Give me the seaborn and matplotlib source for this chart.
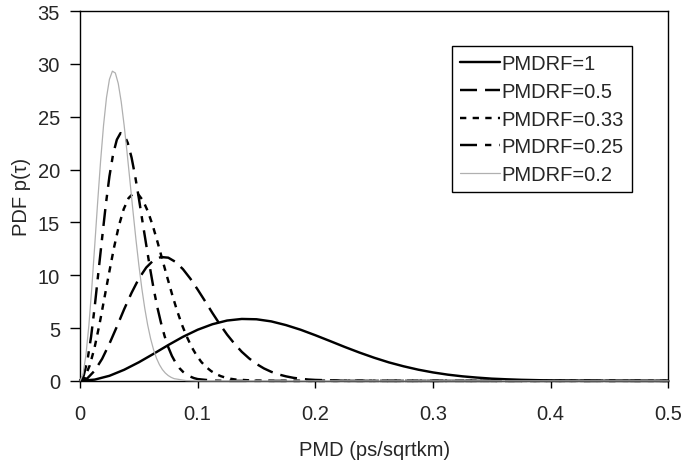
import pandas as pd
import numpy as np
import seaborn as sns
import matplotlib.pyplot as plt
from matplotlib.ticker import FuncFormatter

# values (PMD in ps/sqrtkm, PDF)
x_rf1 = [0, 0.0125, 0.025, 0.0375, 0.05, 0.0625, 0.075, 0.0875, 0.1, 0.1125, 0.125, 0.1375, 0.15,
         0.1625, 0.175, 0.1875, 0.2, 0.2125, 0.225, 0.2375, 0.25, 0.2625, 0.275, 0.2875, 0.3, 0.3125,
         0.325, 0.3375, 0.35, 0.3625, 0.375, 0.3875, 0.4, 0.45, 0.5]
y_rf1 = [0, 0.12, 0.48, 1.05, 1.76, 2.56, 3.39, 4.17, 4.84, 5.36, 5.71, 5.86, 5.83,
         5.63, 5.28, 4.84, 4.32, 3.77, 3.21, 2.68, 2.19, 1.75, 1.38, 1.06, 0.80, 0.59,
         0.43, 0.31, 0.21, 0.15, 0.10, 0.07, 0.04, 0.01, 0.0]

x_rf05 = [0, 0.0063, 0.0125, 0.0188, 0.025, 0.0313, 0.0375, 0.0438, 0.05, 0.0563, 0.0625, 0.0688,
          0.075, 0.0813, 0.0875, 0.0938, 0.1, 0.1063, 0.1125, 0.1188, 0.125, 0.1313, 0.1375, 0.1438,
          0.15, 0.1563, 0.1625, 0.1688, 0.175, 0.1813, 0.1875, 0.1938, 0.2, 0.225, 0.25, 0.5]
y_rf05 = [0, 0.25, 0.97, 2.09, 3.52, 5.13, 6.78, 8.33, 9.68, 10.73, 11.42, 11.72,
          11.66, 11.25, 10.57, 9.67, 8.64, 7.54, 6.43, 5.36, 4.38, 3.51, 2.75, 2.12,
          1.60, 1.18, 0.86, 0.61, 0.43, 0.29, 0.20, 0.13, 0.09, 0.01, 0.0, 0.0]

x_rf033 = [0, 0.0041, 0.0083, 0.0124, 0.0165, 0.0206, 0.0248, 0.0289, 0.033, 0.0371, 0.0413, 0.0454,
           0.0495, 0.0536, 0.0578, 0.0619, 0.066, 0.0701, 0.0743, 0.0784, 0.0825, 0.0866, 0.0908,
           0.0949, 0.099, 0.1031, 0.1073, 0.1114, 0.1155, 0.1196, 0.1238, 0.1279, 0.132, 0.1485,
           0.165, 0.5]
y_rf033 = [0, 0.37, 1.47, 3.17, 5.33, 7.77, 10.27, 12.62, 14.67, 16.25, 17.30, 17.76,
           17.66, 17.05, 16.01, 14.66, 13.09, 11.42, 9.74, 8.13, 6.64, 5.32, 4.17,
           3.20, 2.42, 1.79, 1.30, 0.93, 0.65, 0.45, 0.30, 0.20, 0.13, 0.02,
           0.0, 0.0]

x_rf025 = [0, 0.0031, 0.0063, 0.0094, 0.0125, 0.0156, 0.0188, 0.0219, 0.025, 0.0281, 0.0313, 0.0344,
           0.0375, 0.0406, 0.0438, 0.0469, 0.05, 0.0531, 0.0563, 0.0594, 0.0625, 0.0656, 0.0688,
           0.0719, 0.075, 0.0781, 0.0813, 0.0844, 0.0875, 0.0906, 0.0938, 0.0969, 0.1, 0.1125,
           0.125, 0.5]
y_rf025 = [0, 0.49, 1.93, 4.18, 7.04, 10.26, 13.55, 16.66, 19.36, 21.45, 22.83, 23.45,
           23.31, 22.51, 21.14, 19.35, 17.28, 15.07, 12.85, 10.73, 8.76, 7.02, 5.50,
           4.23, 3.19, 2.36, 1.71, 1.22, 0.86, 0.59, 0.40, 0.26, 0.17, 0.03,
           0.0, 0.0]

x_rf02 = [0, 0.0025, 0.005, 0.0075, 0.01, 0.0125, 0.015, 0.0175, 0.02, 0.0225, 0.025, 0.0275,
          0.03, 0.0325, 0.035, 0.0375, 0.04, 0.0425, 0.045, 0.0475, 0.05, 0.0525, 0.055, 0.0575,
          0.06, 0.0625, 0.065, 0.0675, 0.07, 0.0725, 0.075, 0.0775, 0.08, 0.09, 0.1, 0.5]
y_rf02 = [0, 0.62, 2.42, 5.23, 8.80, 12.82, 16.94, 20.83, 24.20, 26.82, 28.54, 29.31,
          29.14, 28.14, 26.42, 24.18, 21.60, 18.84, 16.07, 13.41, 10.96, 8.77, 6.88, 5.29,
          3.99, 2.95, 2.14, 1.53, 1.07, 0.74, 0.50, 0.33, 0.21, 0.03, 0.0, 0.0]

labels = ["PMDRF=1", "PMDRF=0.5", "PMDRF=0.33", "PMDRF=0.25", "PMDRF=0.2"]
xs = [x_rf1, x_rf05, x_rf033, x_rf025, x_rf02]
ys = [y_rf1, y_rf05, y_rf033, y_rf025, y_rf02]

# line styles (Excel-like)
colors = ["black", "black", "black", "black", "#b0b0b0"]
widths = [1.75, 1.75, 1.75, 1.75, 0.9]
styles = ["-", (0, (7, 3.3)), (0, (2.6, 2.6)), (0, (7, 3.3, 2.6, 3.3)), "-"]

sns.set_style("ticks")
plt.rcParams['font.family'] = ['Liberation Sans', 'DejaVu Sans']
plt.rcParams['font.size'] = 14.5

fig, ax = plt.subplots(figsize=(6.84, 4.64), dpi=100)
fig.subplots_adjust(left=0.117, right=0.977, top=0.974, bottom=0.177)

for i in range(len(labels)):
    df = pd.DataFrame({"PMD": xs[i], "PDF": ys[i]})
    sns.lineplot(data=df, x="PMD", y="PDF", ax=ax, color=colors[i], linewidth=widths[i],
                 linestyle=styles[i], label=labels[i], sort=False, estimator=None,
                 clip_on=False, zorder=3 + i)

ax.set_xlim(0, 0.5)
ax.set_ylim(0, 35)
ax.set_xticks([0, 0.1, 0.2, 0.3, 0.4, 0.5])
ax.set_yticks([0, 5, 10, 15, 20, 25, 30, 35])
ax.xaxis.set_major_formatter(FuncFormatter(lambda v, p: "%g" % v))
ax.tick_params(axis="y", direction="out", length=7, width=1, color="black", labelsize=14.5, pad=7.5)
ax.tick_params(axis="x", direction="out", length=5, width=1, color="black", labelsize=14.5, pad=12)
for s in ax.spines.values():
    s.set_visible(True)
    s.set_color("black")
    s.set_linewidth(1)

ax.set_xlabel("PMD (ps/sqrtkm)", fontsize=14.5, labelpad=12)
ax.set_ylabel("PDF p(τ)", fontsize=14.5, labelpad=5)

leg = ax.legend(loc="upper left", bbox_to_anchor=(0.633, 0.905), frameon=True, fancybox=False,
                edgecolor="black", framealpha=1, fontsize=14.5, handlelength=1.95,
                handletextpad=0.1, labelspacing=0.43, borderpad=0.4, borderaxespad=0)
leg.get_frame().set_linewidth(1)

plt.savefig("out.png", dpi=100)
